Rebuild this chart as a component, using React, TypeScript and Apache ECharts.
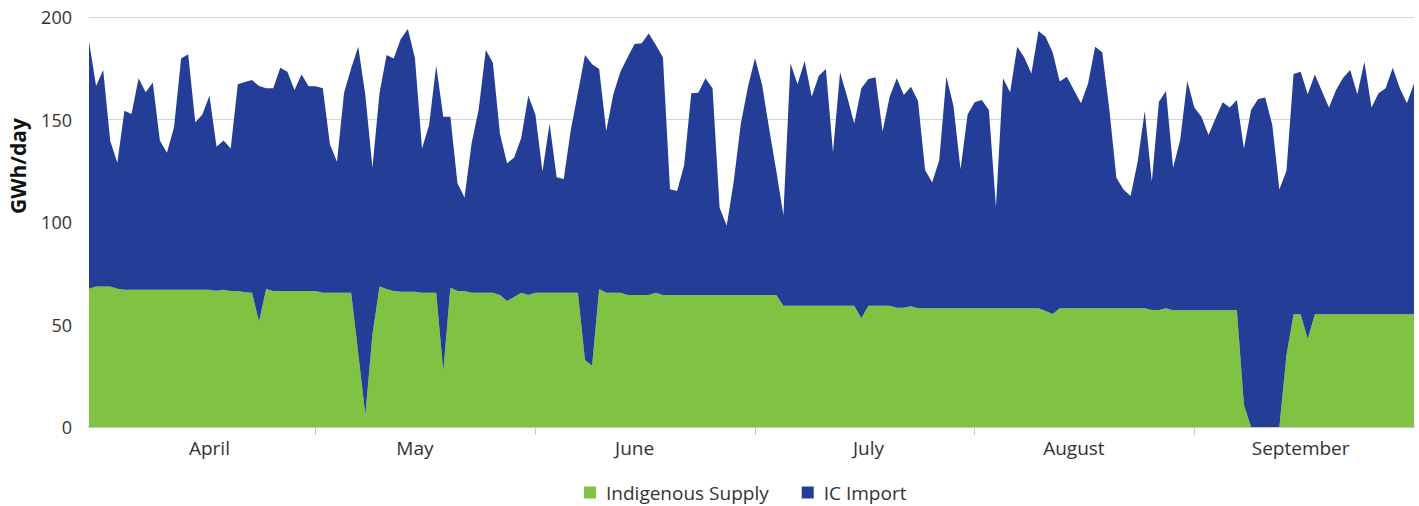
import React, { useEffect, useRef } from "react";
import * as echarts from "echarts";

// Daily values, GWh/day
const indigenousSupply = [
  67.5, 68.5, 68.5, 68.5, 67.5, 67, 67, 67, 67, 67,
  67, 67, 67, 67, 67, 67, 67, 67, 66.5, 67,
  66.3, 66.3, 65.7, 65.5, 51.5, 67.3, 66.3, 66.3, 66.3, 66.3,
  66.3, 66.3, 66.3, 65.5, 65.5, 65.5, 65.5, 65.5, 36, 6,
  45, 68.5, 67.3, 66.3, 66, 66, 66, 65.5, 65.5, 65.5,
  27.3, 68, 66.3, 66.3, 65.5, 65.5, 65.5, 65.5, 64.4, 61.5,
  63.4, 65.5, 64.4, 65.5, 65.5, 65.5, 65.5, 65.5, 65.5, 65.5,
  32.7, 29.9, 67.3, 65.5, 65.5, 65.5, 64.4, 64.4, 64.4, 64.4,
  65.5, 64.4, 64.4, 64.4, 64.4, 64.4, 64.4, 64.4, 64.4, 64.4,
  64.4, 64.4, 64.4, 64.4, 64.4, 64.4, 64.4, 64.4, 59.2, 59.2,
  59.2, 59.2, 59.2, 59.2, 59.2, 59.2, 59.2, 59.2, 59.2, 53,
  59.2, 59.2, 59.2, 59.2, 58.2, 58.2, 58.9, 57.9, 57.9, 57.9,
  57.9, 57.9, 57.9, 57.9, 57.9, 57.9, 57.9, 57.9, 57.9, 57.9,
  57.9, 57.9, 57.9, 57.9, 57.9, 56.6, 55.1, 57.9, 57.9, 57.9,
  57.9, 57.9, 57.9, 57.9, 57.9, 57.9, 57.9, 57.9, 57.9, 57.9,
  57.1, 57.1, 57.9, 56.9, 56.9, 56.9, 56.9, 56.9, 56.9, 56.9,
  56.9, 56.9, 57.1, 10.7, 0, 0, 0, 0, 0, 35.1,
  55, 55, 42.9, 55, 55, 55, 55, 55, 55, 55,
  55, 55, 55, 55, 55, 55, 55, 55,
];

const icImport = [
  120.5, 97.8, 105.6, 71.0, 61.4, 87.3, 85.7, 103.1, 96.3, 101.0,
  72.7, 66.8, 79.2, 112.8, 114.8, 81.6, 85.5, 94.6, 70.2, 72.7,
  69.6, 100.9, 102.6, 103.8, 114.8, 97.9, 98.9, 109.0, 107.0, 98.1,
  105.7, 99.9, 99.9, 99.7, 72.4, 63.9, 97.6, 109.5, 149.5, 156.0,
  81.5, 94.3, 114.2, 113.5, 123.3, 128.1, 114.0, 70.4, 81.8, 110.8,
  124.1, 83.4, 52.6, 45.6, 72.9, 89.5, 118.4, 112.2, 78.6, 67.1,
  68.1, 75.5, 97.2, 87.0, 59.1, 82.6, 56.3, 55.5, 79.5, 97.5,
  148.8, 147.0, 107.3, 78.9, 96.8, 107.8, 115.8, 122.4, 122.8, 127.6,
  120.8, 115.8, 51.6, 50.7, 63.4, 98.4, 98.7, 105.7, 100.8, 42.6,
  33.8, 55.6, 83.6, 101.6, 115.6, 102.4, 81.0, 60.5, 44.2, 118.2,
  108.0, 119.3, 101.9, 112.2, 115.4, 74.8, 113.8, 101.9, 88.9, 112.2,
  110.6, 111.4, 84.9, 101.9, 111.9, 103.8, 107.1, 101.1, 67.5, 61.4,
  72.3, 113.0, 98.8, 67.8, 94.6, 100.5, 101.6, 96.7, 49.6, 112.2,
  105.4, 127.6, 122.3, 114.6, 135.3, 133.8, 127.7, 110.6, 113.0, 106.5,
  100.0, 109.7, 127.6, 124.9, 97.1, 63.7, 58.0, 54.8, 71.5, 96.2,
  62.6, 101.6, 106.0, 69.6, 83.1, 111.9, 98.9, 94.5, 85.5, 93.7,
  101.5, 98.9, 102.4, 125.2, 154.6, 160.0, 160.7, 147.3, 115.9, 89.9,
  117.2, 118.3, 119.4, 117.0, 108.9, 100.8, 109.4, 115.4, 119.1, 107.3,
  123.2, 100.9, 107.8, 110.2, 120.3, 110.2, 102.9, 112.6,
];

const startDate = "2021-03-30";
const monthLabels = ["April", "May", "June", "July", "August", "September"];
const monthLabelIndex = [17, 46, 77, 110, 139, 171];
const tickIndex = [32, 63, 94, 125, 156];
const yTicks = [0, 50, 100, 150, 200];

const categories: string[] = indigenousSupply.map((_, i) => {
  const d = new Date(startDate + "T00:00:00Z");
  d.setUTCDate(d.getUTCDate() + i);
  return d.toISOString().slice(0, 10);
});

const FONT = "'Open Sans', 'Noto Sans', sans-serif";

export default function App() {
  const ref = useRef<HTMLDivElement>(null);

  useEffect(() => {
    if (!ref.current) return;
    const chart = echarts.init(ref.current, undefined, { renderer: "svg" });
    chart.setOption({
      animation: false,
      backgroundColor: "#ffffff",
      grid: { left: 89, right: 5, top: 17, bottom: 79, containLabel: false },
      legend: {
        top: 478,
        left: 579,
        icon: "rect",
        itemWidth: 12,
        itemHeight: 12,
        itemGap: 33,
        data: ["Indigenous Supply", "IC Import"],
        textStyle: { fontFamily: FONT, fontSize: 19, color: "#333333", padding: [0, 0, 0, 5] },
      },
      graphic: [
        {
          type: "text",
          x: 18,
          y: 166,
          rotation: Math.PI / 2,
          style: {
            text: "GWh/day",
            fontFamily: FONT,
            fontSize: 21,
            fontWeight: "bold",
            fill: "#111111",
            align: "center",
            verticalAlign: "middle",
          },
        },
      ],
      xAxis: {
        type: "category",
        data: categories,
        boundaryGap: false,
        axisLine: { show: true, lineStyle: { color: "#c8c8c8", width: 2 } },
        axisTick: {
          show: true,
          length: 8,
          interval: (index: number) => tickIndex.includes(index),
          lineStyle: { color: "#c8c8c8", width: 1 },
        },
        axisLabel: {
          interval: (index: number) => monthLabelIndex.includes(index),
          formatter: (_v: string, index: number) => {
            const k = monthLabelIndex.indexOf(index);
            return k >= 0 ? monthLabels[k] : "";
          },
          margin: 11,
          fontFamily: FONT,
          fontSize: 19,
          color: "#333333",
        },
        splitLine: { show: false },
      },
      yAxis: {
        type: "value",
        min: yTicks[0],
        max: yTicks[yTicks.length - 1],
        interval: 50,
        axisLine: { show: false },
        axisTick: { show: false },
        axisLabel: { fontFamily: FONT, fontSize: 18, color: "#333333", margin: 17 },
        splitLine: { show: true, lineStyle: { color: "#d6d6d6", width: 1 } },
      },
      series: [
        {
          name: "Indigenous Supply",
          type: "line",
          stack: "total",
          data: indigenousSupply,
          symbol: "none",
          showSymbol: false,
          color: "#80c241",
          lineStyle: { width: 0, color: "#80c241" },
          areaStyle: { color: "#80c241", opacity: 1 },
        },
        {
          name: "IC Import",
          type: "line",
          stack: "total",
          data: icImport,
          symbol: "none",
          showSymbol: false,
          color: "#243d96",
          lineStyle: { width: 0, color: "#243d96" },
          areaStyle: { color: "#243d96", opacity: 1 },
        },
      ],
    });
    return () => chart.dispose();
  }, []);

  return (
    <div
      ref={ref}
      style={{ position: "fixed", left: 0, top: 0, width: 1419, height: 506, background: "#fff" }}
    />
  );
}
